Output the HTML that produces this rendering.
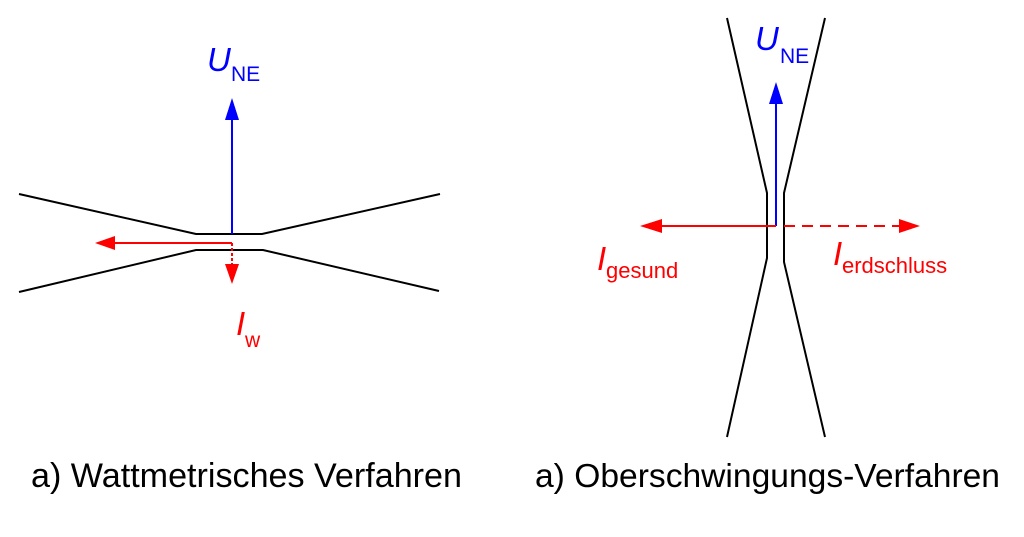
<!DOCTYPE html>
<html><head><style>
html,body{margin:0;padding:0;background:#fff;}
svg{display:block;font-family:"Liberation Sans",Arial,sans-serif;}
</style></head><body>
<svg width="1024" height="537" viewBox="0 0 1024 537" xmlns="http://www.w3.org/2000/svg">
<g fill="none" stroke="#000" stroke-width="2">
<polyline points="19,194 196,234 262,234 440,194"/>
<polyline points="19,292 196,250 263,250 439,291"/>
<polyline points="727,18 767,193 767,258 727,437"/>
<polyline points="825,18 784,193 784,262 825,437"/>
</g>
<line x1="232" y1="234" x2="232" y2="115" stroke="#0000ff" stroke-width="2"/>
<polygon points="232,98 225,120 239,120" fill="#0000ff"/>
<line x1="232" y1="243" x2="112" y2="243" stroke="#ff0000" stroke-width="2"/>
<polygon points="95,243 115,236 115,250" fill="#ff0000"/>
<line x1="232" y1="243" x2="232" y2="266" stroke="#ff0000" stroke-width="2" stroke-dasharray="3,2"/>
<polygon points="232,284 225,264 239,264" fill="#ff0000"/>
<text x="207" y="71" font-size="33" font-style="italic" fill="#0000ff">U</text>
<text x="231" y="81" font-size="21" fill="#0000ff">NE</text>
<text x="236" y="335" font-size="33" font-style="italic" fill="#ff0000">I</text>
<text x="245" y="347" font-size="21" fill="#ff0000">w</text>
<line x1="776" y1="226" x2="776" y2="100" stroke="#0000ff" stroke-width="2"/>
<polygon points="776,82 769,104 783,104" fill="#0000ff"/>
<line x1="776" y1="226" x2="660" y2="226" stroke="#ff0000" stroke-width="2"/>
<polygon points="640,226 662,219 662,233" fill="#ff0000"/>
<line x1="784" y1="226" x2="902" y2="226" stroke="#ff0000" stroke-width="2" stroke-dasharray="11,7"/>
<polygon points="920,226 899,219 899,233" fill="#ff0000"/>
<text x="755" y="50" font-size="33" font-style="italic" fill="#0000ff">U</text>
<text x="780" y="63" font-size="21" fill="#0000ff">NE</text>
<text x="597" y="270" font-size="33" font-style="italic" fill="#ff0000">I</text>
<text x="606" y="278" font-size="22" fill="#ff0000">gesund</text>
<text x="833" y="265" font-size="33" font-style="italic" fill="#ff0000">I</text>
<text x="842" y="273" font-size="22" fill="#ff0000">erdschluss</text>
<text x="31" y="487" font-size="34" fill="#000" textLength="431" lengthAdjust="spacingAndGlyphs">a) Wattmetrisches Verfahren</text>
<text x="535" y="487" font-size="33.5" fill="#000" textLength="465" lengthAdjust="spacingAndGlyphs">a) Oberschwingungs-Verfahren</text>
</svg>
</body></html>
